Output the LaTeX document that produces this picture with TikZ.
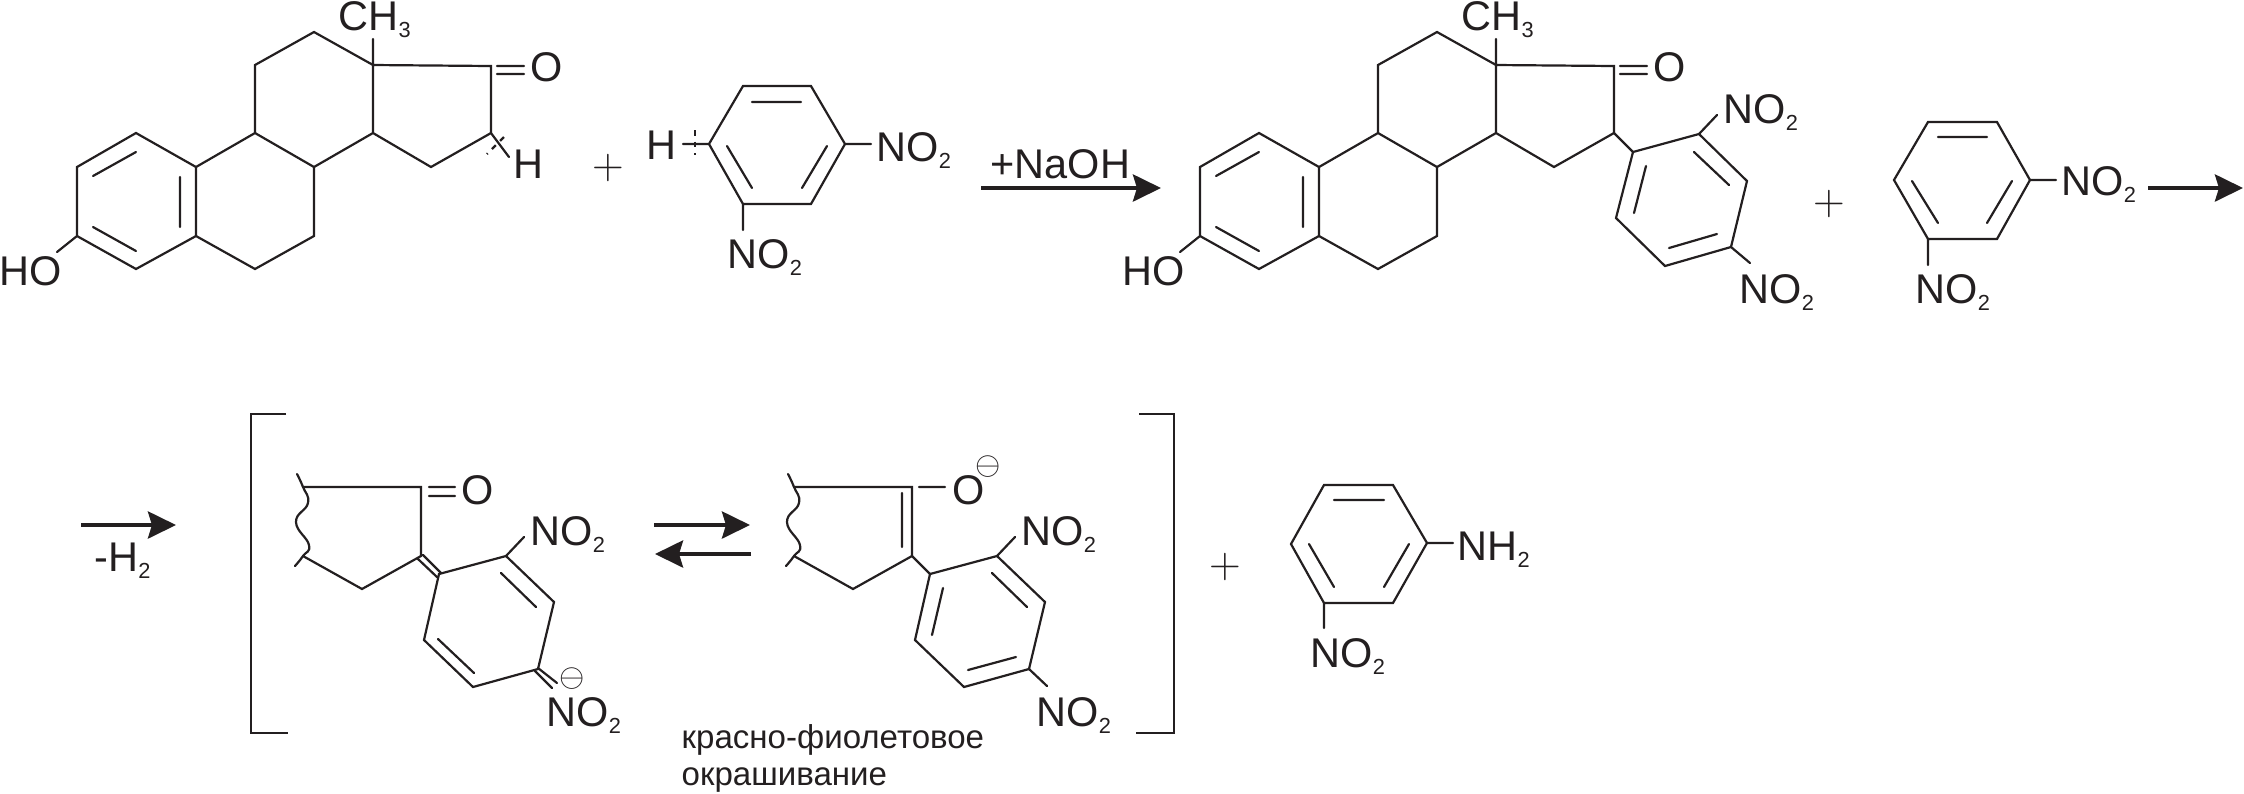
\documentclass[tikz,border=0pt]{standalone}
\usepackage{fontspec}
\setmainfont{Liberation Sans}
\usetikzlibrary{arrows.meta}
\definecolor{chem-black}{RGB}{35, 31, 32}
\newcommand{\low}[1]{\raisebox{-2pt}{\fontsize{6.2}{6}\selectfont #1}}
\newcommand{\nitro}{NO\low{2}}
\newcommand{\plus}{\fontsize{12}{12}\selectfont$+$}
\newcommand{\minus}{\fontsize{9}{9}\selectfont$\ominus$}
\tikzset{
    bond/.style={line width=0.022cm, chem-black, line cap=round, line join=miter},
    hashed/.style={bond, line cap=butt, dash pattern=on 0.055cm off 0.06cm},
    atom/.style={inner sep=0, anchor=base west, text=chem-black, font=\fontsize{11.8}{12}\selectfont},
    sign/.style={inner sep=0, text=chem-black},
    reaction/.style={line width=0.04cm, chem-black, -{Stealth[length=0.28cm, width=0.27cm, inset=0.04cm]}},
    note/.style={inner sep=0, anchor=base west, text=chem-black, font=\fontsize{9.4}{10}\selectfont}
}
\newcommand{\steroid}[2]{
    \begin{scope}[shift={(#1,0)}, name prefix=#2-]
        \coordinate (a1) at (77,167); \coordinate (a2) at (136,133); \coordinate (a3) at (196,167);
        \coordinate (a4) at (196,236); \coordinate (a5) at (136,269); \coordinate (a6) at (77,236);
        \coordinate (b1) at (255,133); \coordinate (b2) at (314,167); \coordinate (b3) at (314,236);
        \coordinate (b4) at (255,269); \coordinate (c1) at (255,65); \coordinate (c2) at (314,32);
        \coordinate (c3) at (373,65); \coordinate (c4) at (373,133); \coordinate (d1) at (491,66);
        \coordinate (d2) at (491,133); \coordinate (d3) at (431,167);
        \coordinate (i1) at (93,176); \coordinate (i2) at (136,152); \coordinate (i3) at (180,177);
        \coordinate (i4) at (180,227); \coordinate (i5) at (93,227); \coordinate (i6) at (136,251);
        \coordinate (ho) at (57,252); \coordinate (me) at (373,39);
        \coordinate (o1) at (497,66); \coordinate (o2) at (524,66);
        \coordinate (o3) at (497,74); \coordinate (o4) at (524,74);
        \draw [bond] (a1) -- (a2) -- (a3) -- (a4) -- (a5) -- (a6) -- cycle
                     (a3) -- (b1) -- (b2) -- (b3) -- (b4) -- (a4)
                     (b1) -- (c1) -- (c2) -- (c3) -- (c4) -- (b2)
                     (c3) -- (d1) -- (d2) -- (d3) -- (c4)
                     (i1) -- (i2) (i3) -- (i4) (i5) -- (i6)
                     (a6) -- (ho) (c3) -- (me) (o1) -- (o2) (o3) -- (o4);
        \node [atom] (hydroxy) at (-1,285) {HO};
        \node [atom] (methyl) at (338,30) {CH\low{3}};
        \node [atom] (oxo) at (530,81) {O};
    \end{scope}
}
\newcommand{\fragment}[2]{
    \begin{scope}[shift={(#1,0)}, name prefix=#2-]
        \coordinate (p1) at (303,487); \coordinate (p2) at (421,487); \coordinate (p3) at (421,556);
        \coordinate (p4) at (362,589); \coordinate (p5) at (303,556);
        \coordinate (q1) at (439,574); \coordinate (q2) at (506,556); \coordinate (q3) at (554,602);
        \coordinate (q4) at (538,669); \coordinate (q5) at (473,687); \coordinate (q6) at (424,640);
        \coordinate (n1) at (524,537);
        \draw [bond] (p1) -- (p2) -- (p3) -- (p4) -- (p5)
                     (q1) -- (q2) -- (q3) -- (q4) -- (q5) -- (q6) -- cycle
                     (q2) -- (n1);
        \draw [bond] plot [smooth, tension=0.8] coordinates {(297,474) (303,487) (308,503) (296,522) (309,545) (303,556) (295,566)};
        \node [atom] (no1) at (530,545) {\nitro};
    \end{scope}
}
\begin{document}
\begin{tikzpicture}[x=0.01cm, y=-0.01cm]
    \useasboundingbox (0,0) rectangle (2244,793);
    \steroid{0}{s1}
    \steroid{1123}{s2}
    \coordinate (hb) at (509,157); \coordinate (hd1) at (504,137); \coordinate (hd2) at (487,154);
    \draw [bond] (s1-d2) -- (hb);
    \draw [hashed] (hd1) -- (hd2);
    \node [atom] (h1) at (513,178) {H};
    \node [sign] (plus1) at (608,168) {\plus};
    %
    \coordinate (e1) at (743,86); \coordinate (e2) at (811,86); \coordinate (e3) at (845,144);
    \coordinate (e4) at (811,204); \coordinate (e5) at (743,204); \coordinate (e6) at (709,144);
    \coordinate (e7) at (752,102); \coordinate (e8) at (801,102); \coordinate (e9) at (827,146);
    \coordinate (e10) at (802,188); \coordinate (e11) at (727,146); \coordinate (e12) at (752,188);
    \coordinate (e13) at (871,144); \coordinate (e14) at (743,230); \coordinate (e15) at (683,144);
    \coordinate (e16) at (695,130); \coordinate (e17) at (695,155);
    \draw [bond] (e1) -- (e2) -- (e3) -- (e4) -- (e5) -- (e6) -- cycle
                 (e7) -- (e8) (e9) -- (e10) (e11) -- (e12)
                 (e3) -- (e13) (e5) -- (e14) (e6) -- (e15);
    \draw [hashed] (e16) -- (e17);
    \node [atom] (no1) at (876,161) {\nitro};
    \node [atom] (no2) at (727,268) {\nitro};
    \node [atom] (h2) at (646,159) {H};
    \coordinate (r1a) at (981,188); \coordinate (r1b) at (1161,188);
    \draw [reaction] (r1a) -- (r1b);
    \node [atom] (naoh) at (990,178) {+NaOH};
    %
    \coordinate (f1) at (1633,152); \coordinate (f2) at (1699,134); \coordinate (f3) at (1747,181);
    \coordinate (f4) at (1731,247); \coordinate (f5) at (1665,266); \coordinate (f6) at (1616,218);
    \coordinate (f7) at (1646,166); \coordinate (f8) at (1634,213); \coordinate (f9) at (1694,152);
    \coordinate (f10) at (1729,185); \coordinate (f11) at (1669,248); \coordinate (f12) at (1717,234);
    \coordinate (f13) at (1717,115); \coordinate (f14) at (1750,263);
    \draw [bond] (s2-d2) -- (f1) -- (f2) -- (f3) -- (f4) -- (f5) -- (f6) -- (f1)
                 (f7) -- (f8) (f9) -- (f10) (f11) -- (f12)
                 (f2) -- (f13) (f4) -- (f14);
    \node [atom] (no3) at (1723,123) {\nitro};
    \node [atom] (no4) at (1739,303) {\nitro};
    \node [sign] (plus2) at (1829,204) {\plus};
    %
    \coordinate (g1) at (1928,122); \coordinate (g2) at (1997,122); \coordinate (g3) at (2030,180);
    \coordinate (g4) at (1997,239); \coordinate (g5) at (1928,239); \coordinate (g6) at (1894,180);
    \coordinate (g7) at (1938,137); \coordinate (g8) at (1987,137); \coordinate (g9) at (2012,181);
    \coordinate (g10) at (1987,223); \coordinate (g11) at (1912,181); \coordinate (g12) at (1938,223);
    \coordinate (g13) at (2056,180); \coordinate (g14) at (1928,265);
    \draw [bond] (g1) -- (g2) -- (g3) -- (g4) -- (g5) -- (g6) -- cycle
                 (g7) -- (g8) (g9) -- (g10) (g11) -- (g12)
                 (g3) -- (g13) (g5) -- (g14);
    \node [atom] (no5) at (2061,195) {\nitro};
    \node [atom] (no6) at (1915,303) {\nitro};
    \coordinate (r2a) at (2148,188); \coordinate (r2b) at (2243,188);
    \draw [reaction] (r2a) -- (r2b);
    %
    \coordinate (r3a) at (81,525); \coordinate (r3b) at (176,525);
    \draw [reaction] (r3a) -- (r3b);
    \node [atom] (loss) at (94,571) {-H\low{2}};
    \coordinate (l1) at (286,414); \coordinate (l2) at (251,414);
    \coordinate (l3) at (251,733); \coordinate (l4) at (288,733);
    \draw [bond, line cap=butt] (l1) -- (l2) -- (l3) -- (l4);
    \coordinate (l5) at (1139,414); \coordinate (l6) at (1174,414);
    \coordinate (l7) at (1174,733); \coordinate (l8) at (1136,733);
    \draw [bond, line cap=butt] (l5) -- (l6) -- (l7) -- (l8);
    %
    \fragment{0}{k}
    \coordinate (k1) at (429,487); \coordinate (k2) at (455,487); \coordinate (k3) at (429,496);
    \coordinate (k4) at (455,496); \coordinate (k5) at (423,555); \coordinate (k6) at (441,573);
    \coordinate (k7) at (418,559); \coordinate (k8) at (437,577); \coordinate (k9) at (501,573);
    \coordinate (k10) at (536,607); \coordinate (k11) at (438,639); \coordinate (k12) at (474,673);
    \coordinate (k13) at (538,668); \coordinate (k14) at (557,683); \coordinate (k15) at (535,671);
    \coordinate (k16) at (552,688);
    \draw [bond] (k1) -- (k2) (k3) -- (k4) (k5) -- (k6) (k7) -- (k8)
                 (k9) -- (k10) (k11) -- (k12) (k13) -- (k14) (k15) -- (k16);
    \node [atom] (o3) at (461,504) {O};
    \node [sign] (minus1) at (572,679) {\minus};
    \node [atom] (no7) at (546,726) {\nitro};
    %
    \coordinate (r4a) at (654,525); \coordinate (r4b) at (750,525);
    \coordinate (r5a) at (751,554); \coordinate (r5b) at (655,554);
    \draw [reaction] (r4a) -- (r4b);
    \draw [reaction] (r5a) -- (r5b);
    %
    \fragment{491}{m}
    \coordinate (m1) at (902,493); \coordinate (m2) at (902,547); \coordinate (m3) at (919,487);
    \coordinate (m4) at (945,487); \coordinate (m5) at (943,588); \coordinate (m6) at (932,635);
    \coordinate (m7) at (992,573); \coordinate (m8) at (1027,607); \coordinate (m9) at (968,670);
    \coordinate (m10) at (1016,657); \coordinate (m11) at (1047,686);
    \draw [bond] (m-p3) -- (m-q1) (m1) -- (m2) (m3) -- (m4)
                 (m5) -- (m6) (m7) -- (m8) (m9) -- (m10) (m-q4) -- (m11);
    \node [atom] (o4) at (952,504) {O};
    \node [sign] (minus2) at (988,467) {\minus};
    \node [atom] (no8) at (1036,726) {\nitro};
    \node [note] (colour1) at (681,748) {красно-фиолетовое};
    \node [note] (colour2) at (681,785) {окрашивание};
    %
    \node [sign] (plus3) at (1225,567) {\plus};
    \coordinate (h1a) at (1324,485); \coordinate (h2a) at (1393,485); \coordinate (h3a) at (1427,543);
    \coordinate (h4a) at (1393,603); \coordinate (h5a) at (1324,603); \coordinate (h6a) at (1291,544);
    \coordinate (h7a) at (1334,500); \coordinate (h8a) at (1384,500); \coordinate (h9a) at (1409,544);
    \coordinate (h10a) at (1384,587); \coordinate (h11a) at (1309,544); \coordinate (h12a) at (1334,587);
    \coordinate (h13a) at (1453,543); \coordinate (h14a) at (1324,628);
    \draw [bond] (h1a) -- (h2a) -- (h3a) -- (h4a) -- (h5a) -- (h6a) -- cycle
                 (h7a) -- (h8a) (h9a) -- (h10a) (h11a) -- (h12a)
                 (h3a) -- (h13a) (h5a) -- (h14a);
    \node [atom] (amino) at (1457,560) {NH\low{2}};
    \node [atom] (no9) at (1310,667) {\nitro};
\end{tikzpicture}
\end{document}
